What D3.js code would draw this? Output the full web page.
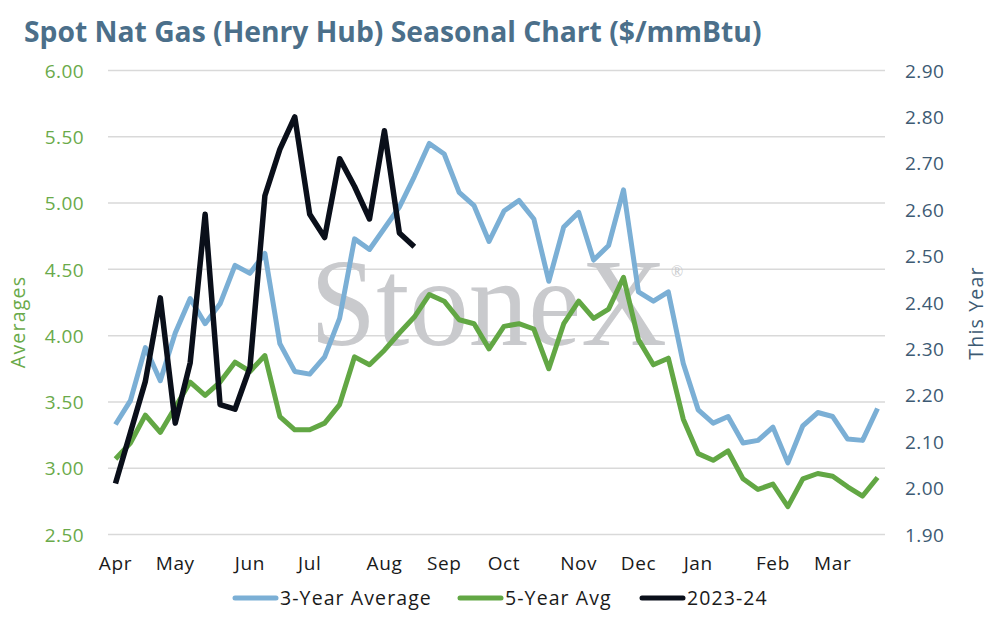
<!DOCTYPE html>
<html>
<head>
<meta charset="utf-8">
<script src="https://cdn.jsdelivr.net/npm/d3@7"></script>
<style>
	body { margin: 0; background: #fff; }
	text { font-family: "Open Sans", "Noto Sans", sans-serif; }
</style>
</head>
<body>
<div id="chart"></div>
<script>
// weekly values, Apr -> Mar (52 weeks)
var threeYearAvg = [3.33,3.51,3.91,3.66,4.02,4.28,4.09,4.24,4.53,4.47,
	4.62,3.94,3.73,3.71,3.84,4.13,4.73,4.65,4.81,4.97,
	5.20,5.45,5.37,5.08,4.98,4.71,4.94,5.02,4.88,4.41,
	4.82,4.93,4.57,4.68,5.10,4.33,4.26,4.33,3.79,3.44,
	3.34,3.39,3.19,3.21,3.31,3.04,3.32,3.42,3.39,3.22,
	3.21,3.45];
var fiveYearAvg = [3.07,3.19,3.40,3.27,3.46,3.65,3.55,3.65,3.80,3.73,
	3.85,3.39,3.29,3.29,3.34,3.48,3.84,3.78,3.89,4.02,
	4.14,4.31,4.26,4.12,4.09,3.90,4.07,4.09,4.05,3.75,
	4.09,4.26,4.13,4.20,4.44,3.97,3.78,3.83,3.37,3.11,
	3.06,3.13,2.92,2.84,2.88,2.71,2.92,2.96,2.94,2.86,
	2.79,2.93];
var thisYear = [2.01,2.12,2.23,2.41,2.14,2.27,2.59,2.18,2.17,2.26,
	2.63,2.73,2.80,2.59,2.54,2.71,2.65,2.58,2.77,2.55,
	2.52];
var monthLabels = ["Apr","May","Jun","Jul","Aug","Sep","Oct","Nov","Dec","Jan","Feb","Mar"];
var monthWeeks = [0,4,9,13,18,22,26,31,35,39,44,48];
var leftTicks = [2.5,3.0,3.5,4.0,4.5,5.0,5.5,6.0];
var rightTicks = [1.9,2.0,2.1,2.2,2.3,2.4,2.5,2.6,2.7,2.8,2.9];
var seriesNames = ["3-Year Average","5-Year Avg","2023-24"];
var seriesColors = ["#7bafd5","#62a744","#0a0f1a"];

var width = 993, height = 617;
var plot = { left: 108, right: 885, top: 70.5, bottom: 534.5 };

var svg = d3.select("#chart")
	.append("svg")
	.attr("width", width)
	.attr("height", height);

var x = d3.scaleBand()
	.domain(d3.range(threeYearAvg.length))
	.range([plot.left, plot.right]);
var xc = function(i) { return x(i) + x.bandwidth() / 2; };
var yLeft = d3.scaleLinear().domain([2.5, 6.0]).range([plot.bottom, plot.top]);
var yRight = d3.scaleLinear().domain([1.9, 2.9]).range([plot.bottom, plot.top]);

// title
var title = svg.append("text")
	.attr("x", 24)
	.attr("y", 42)
	.style("font-size", "28px")
	.style("font-weight", "bold")
	.style("fill", "#4b6f8a")
	.text("Spot Nat Gas (Henry Hub) Seasonal Chart ($/mmBtu)");
var tw = title.node().getComputedTextLength();
title.style("font-size", (28 * 738 / tw) + "px");

// gridlines
svg.append("g")
	.selectAll("line")
	.data(leftTicks)
	.enter()
	.append("line")
	.attr("x1", plot.left)
	.attr("x2", plot.right)
	.attr("y1", function(d) { return yLeft(d); })
	.attr("y2", function(d) { return yLeft(d); })
	.style("stroke", "#d9d9d9")
	.style("stroke-width", 1.5);

// left axis
var leftAxis = svg.append("g")
	.attr("transform", "translate(" + (plot.left - 21) + ",0)")
	.call(d3.axisLeft(yLeft).tickValues(leftTicks).tickFormat(d3.format(".2f")).tickSize(0));
leftAxis.select(".domain").remove();
leftAxis.selectAll("text")
	.attr("dy", "0.35em")
	.style("font-size", "19px")
	.style("letter-spacing", "0.4px")
	.style("font-family", "'Open Sans', sans-serif")
	.style("fill", "#6aaa4a");

// right axis
var rightAxis = svg.append("g")
	.attr("transform", "translate(" + (plot.right + 20) + ",0)")
	.call(d3.axisRight(yRight).tickValues(rightTicks).tickFormat(d3.format(".2f")).tickSize(0));
rightAxis.select(".domain").remove();
rightAxis.selectAll("text")
	.attr("x", 0)
	.attr("dy", "0.35em")
	.style("font-size", "19px")
	.style("letter-spacing", "0.4px")
	.style("font-family", "'Open Sans', sans-serif")
	.style("fill", "#3d5a73");

// month labels
svg.append("g")
	.selectAll("text")
	.data(monthWeeks)
	.enter()
	.append("text")
	.attr("x", function(d) { return xc(d); })
	.attr("y", 570)
	.attr("text-anchor", "middle")
	.style("font-size", "19px")
	.style("letter-spacing", "0.6px")
	.style("fill", "#1a1a1a")
	.text(function(d, i) { return monthLabels[i]; });

// axis titles
svg.append("text")
	.attr("transform", "translate(25,322) rotate(-90)")
	.attr("text-anchor", "middle")
	.style("font-size", "19.5px")
	.style("letter-spacing", "1.2px")
	.style("fill", "#6aaa4a")
	.text("Averages");
svg.append("text")
	.attr("transform", "translate(983,313) rotate(-90)")
	.attr("text-anchor", "middle")
	.style("font-size", "19.5px")
	.style("letter-spacing", "1.2px")
	.style("fill", "#3d5a73")
	.text("This Year");

// watermark (one text element, registered mark as a tspan)
var mark = svg.append("text")
	.attr("x", 310)
	.attr("y", 345)
	.style("font-family", "'Liberation Serif', 'DejaVu Serif', serif")
	.style("fill", "#c9cacd");
mark.append("tspan")
	.attr("textLength", 357)
	.attr("lengthAdjust", "spacingAndGlyphs")
	.style("font-size", "124px")
	.text("StoneX");
mark.append("tspan")
	.attr("dx", 4)
	.attr("dy", -68)
	.style("font-size", "16px")
	.text("\u00ae");

// series lines
var lineLeft = d3.line()
	.x(function(d, i) { return xc(i); })
	.y(function(d) { return yLeft(d); });
var lineRight = d3.line()
	.x(function(d, i) { return xc(i); })
	.y(function(d) { return yRight(d); });

svg.append("path")
	.attr("d", lineLeft(threeYearAvg))
	.style("fill", "none")
	.style("stroke", seriesColors[0])
	.style("stroke-width", 5)
	.style("stroke-linejoin", "round");
svg.append("path")
	.attr("d", lineLeft(fiveYearAvg))
	.style("fill", "none")
	.style("stroke", seriesColors[1])
	.style("stroke-width", 5)
	.style("stroke-linejoin", "round");
svg.append("path")
	.attr("d", lineRight(thisYear))
	.style("fill", "none")
	.style("stroke", seriesColors[2])
	.style("stroke-width", 5.5)
	.style("stroke-linejoin", "round");

// legend
var legendX = [233, 458, 640];
var legend = svg.append("g")
	.selectAll("g")
	.data(seriesNames)
	.enter()
	.append("g")
	.attr("transform", function(d, i) { return "translate(" + legendX[i] + ",598)"; });
legend.append("line")
	.attr("x1", 2)
	.attr("x2", 43)
	.attr("y1", 0)
	.attr("y2", 0)
	.style("stroke", function(d, i) { return seriesColors[i]; })
	.style("stroke-width", 5)
	.style("stroke-linecap", "round");
legend.append("text")
	.attr("x", 47)
	.attr("y", 0)
	.attr("dy", "0.35em")
	.style("font-size", "19.5px")
	.style("letter-spacing", "1.1px")
	.style("fill", "#1a1a1a")
	.text(function(d) { return d; });
</script>
</body>
</html>
